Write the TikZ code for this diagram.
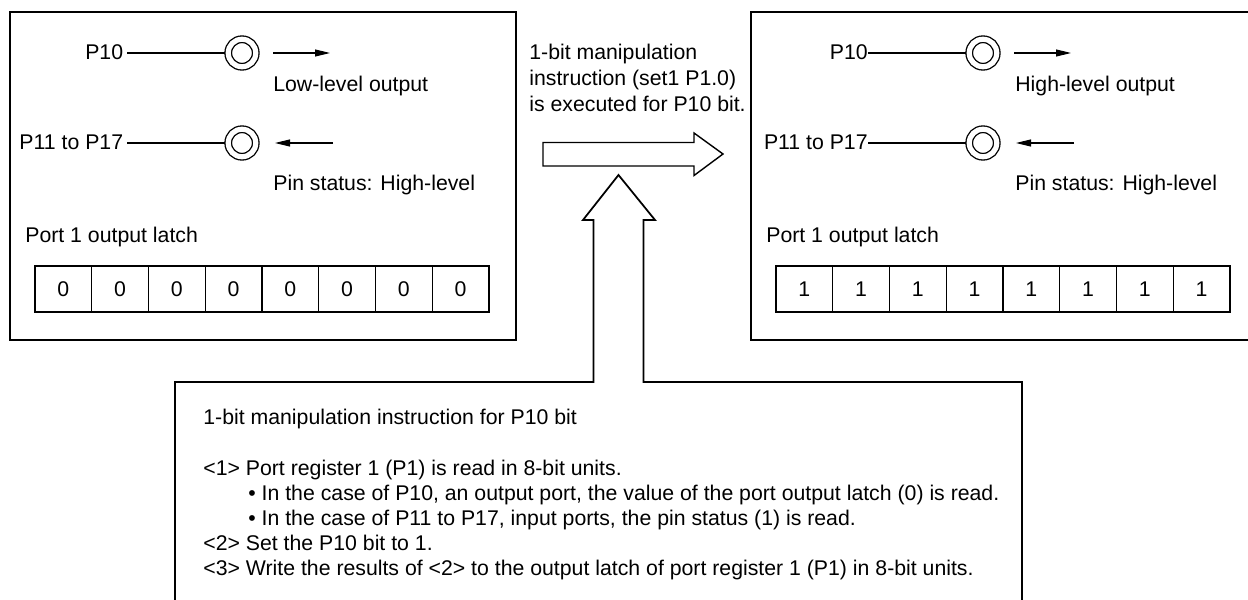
\documentclass[tikz,border=0pt]{standalone}
\usepackage{fontspec}
\setmainfont{Liberation Sans}
\usetikzlibrary{positioning,arrows.meta,calc}
\newcommand{\fsz}{\fontsize{12.1pt}{14.5pt}\selectfont}
\tikzset{
  boxline/.style ={draw, line width=1pt},
  lbl/.style     ={anchor=base west, inner sep=0pt, font=\fsz},
  pinlbl/.style  ={anchor=base east, inner sep=0pt, font=\fsz},
  pinring/.style ={circle, draw, double, double distance=1.04mm, line width=0.75pt,
                   minimum size=5.5mm, inner sep=0pt, outer sep=0.7mm},
  pinline/.style ={line width=1.5pt},
  sig/.style     ={-{Triangle[length=3mm,width=1.4mm]}, line width=0.6pt},
  cell/.style    ={draw, line width=0.75pt, minimum width=11.35mm,
                   minimum height=9.2mm, inner sep=0pt, font=\fsz},
  hollow/.style  ={draw, line width=0.8pt, line join=miter},
}

\begin{document}
\begin{tikzpicture}[x=0.2mm, y=-0.2mm]
  \useasboundingbox (0,0) rectangle (1248,600);

  % before the instruction
  \draw[boxline] (10,12) rectangle (516,340);
  \node[pinlbl, inner xsep=2pt] (lp10) at (127,60) {P10};
  \node[pinlbl, inner xsep=2pt] (lp11) at (127,150) {P11 to P17};
  \node[pinring] (lc10) at (242,53) {};
  \node[pinring] (lc11) at (242,143) {};
  \draw[pinline] (lp10.east |- lc10.west) -- (lc10.west);
  \draw[pinline] (lp11.east |- lc11.west) -- (lc11.west);
  \draw[sig] ($(lc10.center)+(31,0)$) -- ++(57,0);
  \draw[sig] ($(lc11.center)+(91,0)$) -- ++(-58,0);
  \node[lbl] (llow) at (273,91.7) {Low-level output};
  \node[lbl] (lpin) at (273,190.7) {Pin status: High-level};
  \node[lbl] (llatch) at (25,243) {Port 1 output latch};
  \foreach \i in {0,...,7}
    \node[cell] (lb\i) at ({35+56.75*(\i+0.5)},289) {0};

  % after the instruction
  \draw[boxline] (751,12) rectangle (1257,340);
  \node[pinlbl] (rp10) at (868,60) {P10};
  \node[pinlbl] (rp11) at (868,150) {P11 to P17};
  \node[pinring] (rc10) at (983,53) {};
  \node[pinring] (rc11) at (983,143) {};
  \draw[pinline] (rp10.east |- rc10.west) -- (rc10.west);
  \draw[pinline] (rp11.east |- rc11.west) -- (rc11.west);
  \draw[sig] ($(rc10.center)+(31,0)$) -- ++(57,0);
  \draw[sig] ($(rc11.center)+(91,0)$) -- ++(-58,0);
  \node[lbl] (rhigh) at (1015,91.7) {High-level output};
  \node[lbl] (rpin) at (1015,190.7) {Pin status: High-level};
  \node[lbl] (rlatch) at (766,243) {Port 1 output latch};
  \foreach \i in {0,...,7}
    \node[cell] (rb\i) at ({776+56.75*(\i+0.5)},289) {1};

  % instruction arrow
  \node[lbl] (m1) at (529,59.5) {1-bit manipulation};
  \node[lbl] (m2) at (529,85.7) {instruction (set1 P1.0)};
  \node[lbl] (m3) at (529,111.9) {is executed for P10 bit.};
  \draw[hollow] (543,142.5) -- (694,142.5) -- (694,133) -- (723,154)
    -- (694,175.5) -- (694,166) -- (543,166) -- cycle;

  % steps box with up arrow
  \draw[hollow, line width=1pt] (175,606) -- (175,382) -- (593.5,382)
    -- (593.5,220) -- (583,220) -- (618.5,175) -- (655,220) -- (643.5,220)
    -- (643.5,382) -- (1022,382) -- (1022,606);
  \node[lbl] (t0) at (203,425) {1-bit manipulation instruction for P10 bit};
  \node[lbl] (t1) at (203,475) {<1> Port register 1 (P1) is read in 8-bit units.};
  \node[lbl] (t2) at (248,500)
    {\textbullet{} In the case of P10, an output port, the value of the port output latch (0) is read.};
  \node[lbl] (t3) at (248,525)
    {\textbullet{} In the case of P11 to P17, input ports, the pin status (1) is read.};
  \node[lbl] (t4) at (203,550) {<2> Set the P10 bit to 1.};
  \node[lbl] (t5) at (203,575)
    {<3> Write the results of <2> to the output latch of port register 1 (P1) in 8-bit units.};
\end{tikzpicture}
\end{document}
